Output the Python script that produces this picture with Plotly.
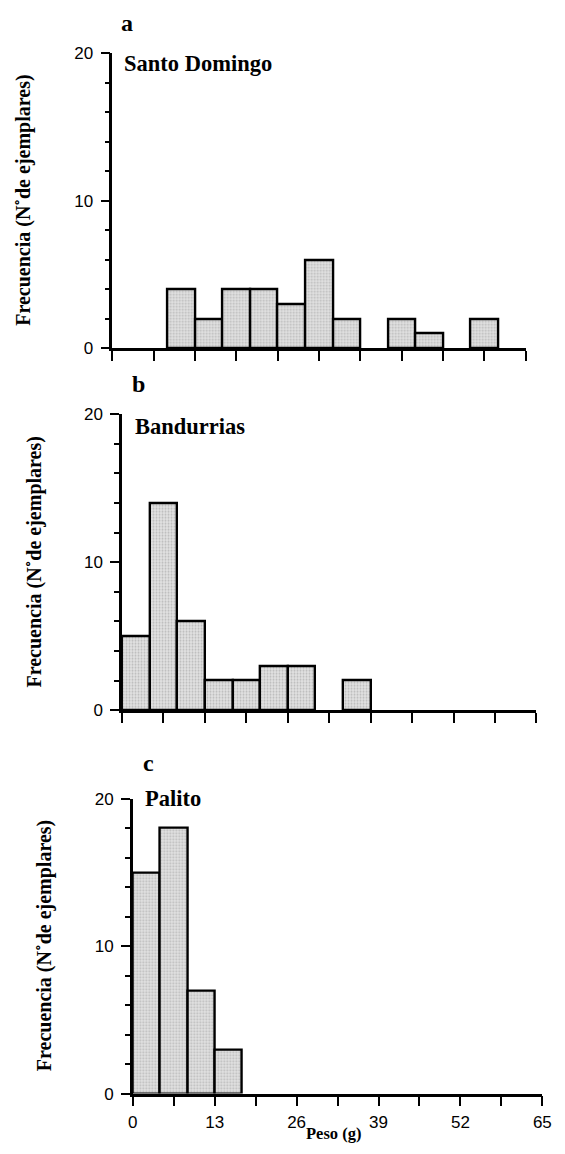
import plotly.graph_objects as go

W, H = 565, 1154

# ---- data ----
x_min, x_max = 0, 65
n_bins = 15
bin_width = (x_max - x_min) / n_bins
bin_left_edges = [x_min + i * bin_width for i in range(n_bins)]

santo_domingo = [0, 0, 4, 2, 4, 4, 3, 6, 2, 0, 2, 1, 0, 2, 0]
bandurrias = [5, 14, 6, 2, 2, 3, 3, 0, 2, 0, 0, 0, 0, 0, 0]
palito = [15, 18, 7, 3, 0, 0, 0, 0, 0, 0, 0, 0, 0, 0, 0]

panel_letters = ["a", "b", "c"]
panel_names = ["Santo Domingo", "Bandurrias", "Palito"]
series = [santo_domingo, bandurrias, palito]

x_tickvals = [0, 6.5, 13, 19.5, 26, 32.5, 39, 45.5, 52, 58.5, 65]
x_ticktext = ["0", "", "13", "", "26", "", "39", "", "52", "", "65"]
y_tickvals = [0, 10, 20]
y_title = "Frecuencia (N˚de ejemplares)"
x_title = "Peso (g)"

# ---- layout geometry (pixels) ----
# left, right, top, bottom of each plot area
boxes = [(110, 534, 45, 345), (120, 545, 412, 713), (131, 551, 803, 1102.7)]
letter_pos = [(125, 14), (137, 381), (147, 767)]
name_pos = [(120, 55), (131, 424), (141, 803)]
ytitle_x = [19.5, 30, 40]

SERIF = "Liberation Serif, Times New Roman, serif"
SANS = "Liberation Sans, Arial, sans-serif"

fig = go.Figure()
annotations = []

for i, (vals, box) in enumerate(zip(series, boxes)):
    xa = "x" if i == 0 else f"x{i+1}"
    ya = "y" if i == 0 else f"y{i+1}"
    centers = [e + bin_width / 2 for e in bin_left_edges]
    yv = [v if v > 0 else None for v in vals]
    fig.add_trace(go.Bar(
        x=centers, y=yv, width=bin_width, xaxis=xa, yaxis=ya,
        marker=dict(
            color="#dcdcdc",
            line=dict(color="black", width=2.4),
            pattern=dict(shape=".", fgcolor="#8f8f8f", bgcolor="#e2e2e2",
                         size=3, solidity=0.35),
        ),
        showlegend=False, hoverinfo="skip",
    ))
    l, r, t, b = box
    xkey = "xaxis" if i == 0 else f"xaxis{i+1}"
    ykey = "yaxis" if i == 0 else f"yaxis{i+1}"
    fig.update_layout(**{
        xkey: dict(
            domain=[l / W, r / W], anchor=ya, range=[x_min, x_max],
            showgrid=False, zeroline=False, showline=True, linecolor="black",
            linewidth=2.5, ticks="outside", ticklen=10, tickwidth=2,
            tickcolor="black", tickvals=x_tickvals, ticktext=x_ticktext,
            showticklabels=(i == 2), ticklabelstandoff=1,
            tickfont=dict(family=SANS, size=17, color="black"),
        ),
        ykey: dict(
            domain=[1 - b / H, 1 - t / H], anchor=xa, range=[0, 20],
            showgrid=False, zeroline=False, showline=True, linecolor="black",
            linewidth=2.5, ticks="outside", ticklen=9, tickwidth=2,
            tickcolor="black", tickvals=y_tickvals, ticklabelstandoff=4,
            tickfont=dict(family=SANS, size=17, color="black"),
            minor=dict(ticks="outside", dtick=2, ticklen=5, tickwidth=2,
                       tickcolor="black"),
        ),
    })
    lx, ly = letter_pos[i]
    annotations.append(dict(x=lx / W, y=1 - ly / H, xref="paper", yref="paper",
                            text=f"<b>{panel_letters[i]}</b>", showarrow=False,
                            xanchor="center", yanchor="middle",
                            font=dict(family=SERIF, size=24, color="black")))
    nx, ny = name_pos[i]
    annotations.append(dict(x=nx / W, y=1 - ny / H, xref="paper", yref="paper",
                            text=f"<b>{panel_names[i]}</b>", showarrow=False,
                            xanchor="left", yanchor="middle",
                            font=dict(family=SERIF, size=22.5, color="black")))
    annotations.append(dict(x=ytitle_x[i] / W, y=1 - ((t + b) / 2) / H,
                            xref="paper", yref="paper",
                            text=f"<b>{y_title}</b>", showarrow=False, textangle=-90,
                            xanchor="center", yanchor="middle",
                            font=dict(family=SERIF, size=20, color="black")))

annotations.append(dict(x=337 / W, y=1 - 1143 / H, xref="paper", yref="paper",
                        text=f"<b>{x_title}</b>", showarrow=False,
                        xanchor="center", yanchor="middle",
                        font=dict(family=SERIF, size=16.5, color="black")))

fig.update_layout(
    width=W, height=H, margin=dict(l=0, r=0, t=0, b=0),
    paper_bgcolor="white", plot_bgcolor="white",
    bargap=0, annotations=annotations,
)

fig.write_html("out.html")
